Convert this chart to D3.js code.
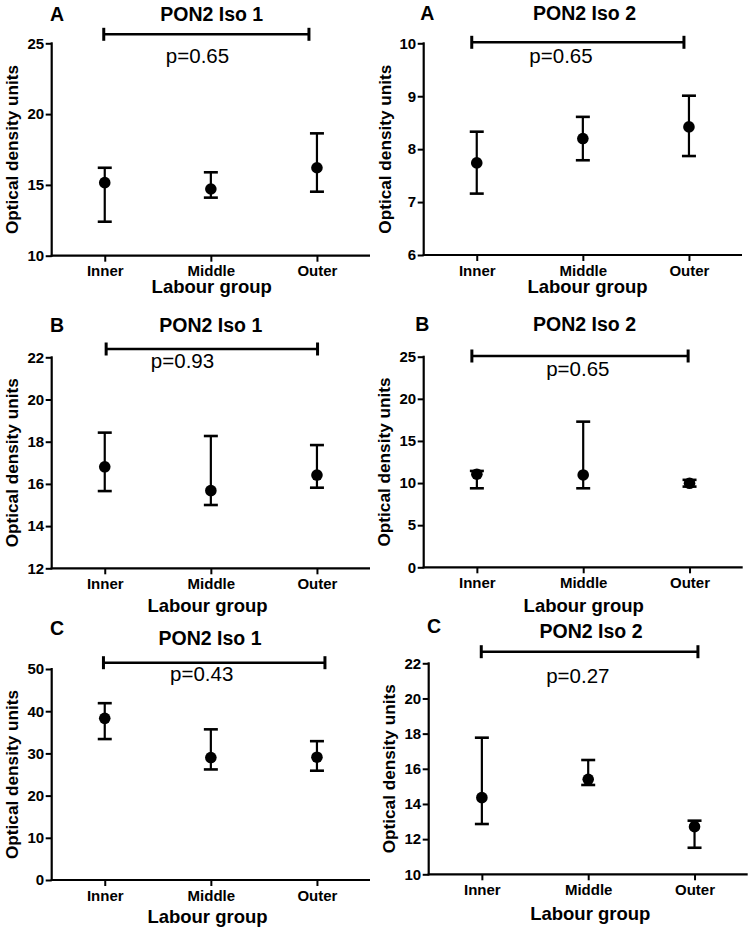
<!DOCTYPE html>
<html>
<head>
<meta charset="utf-8">
<script src="https://cdn.jsdelivr.net/npm/d3@7"></script>
<style>
  html, body { margin: 0; padding: 0; background: #fff; }
  svg { display: block; }
  text { font-family: "Liberation Sans", Arial, Helvetica, sans-serif; fill: #000; }
</style>
</head>
<body>
<svg id="chart" width="755" height="935"></svg>
<script>
// ---------------- DATA ----------------
const categories = ["Inner", "Middle", "Outer"];
const panelLetters = ["A", "A", "B", "B", "C", "C"];
const panelTitles = ["PON2 Iso 1", "PON2 Iso 2", "PON2 Iso 1", "PON2 Iso 2", "PON2 Iso 1", "PON2 Iso 2"];
const pLabels = ["p=0.65", "p=0.65", "p=0.93", "p=0.65", "p=0.43", "p=0.27"];
const xAxisTitle = "Labour group";
const yAxisTitle = "Optical density units";

const yDomains = [[10, 25], [6, 10], [12, 22], [0, 25], [0, 50], [10, 22]];
const yTickValues = [
  [10, 15, 20, 25],
  [6, 7, 8, 9, 10],
  [12, 14, 16, 18, 20, 22],
  [0, 5, 10, 15, 20, 25],
  [0, 10, 20, 30, 40, 50],
  [10, 12, 14, 16, 18, 20, 22]
];

// point estimate, upper and lower whisker per panel (Inner, Middle, Outer)
const centers = [
  [15.16, 14.71, 16.21],
  [7.74, 8.20, 8.42],
  [16.81, 15.68, 16.42],
  [11.05, 10.96, 9.97],
  [38.3, 29.0, 29.1],
  [14.36, 15.40, 12.71]
];
const uppers = [
  [16.21, 15.89, 18.64],
  [8.33, 8.61, 9.01],
  [18.43, 18.27, 17.84],
  [11.44, 17.29, 10.38],
  [41.9, 35.7, 32.9],
  [17.77, 16.50, 13.05]
];
const lowers = [
  [12.40, 14.10, 14.52],
  [7.16, 7.79, 7.87],
  [15.66, 15.00, 15.82],
  [9.38, 9.38, 9.58],
  [33.4, 26.2, 25.9],
  [12.86, 15.08, 11.51]
];

// ---------------- LAYOUT ----------------
const plotLeft   = [51.7, 423.7, 51.7, 423.7, 51.7, 428.7];
const plotRight  = [370, 742, 370, 742.7, 370, 747.7];
const plotTop    = [43.3, 43.3, 357.3, 356.7, 669, 663.3];
const plotBottom = [255.7, 255, 568.3, 567.3, 880, 874.3];
const letterPos  = [[50, 20.7], [420.3, 20], [50, 331.7], [415.3, 330.7], [50, 635], [427, 633.3]];
const titlePos   = [[211.7, 20.5], [584.5, 20], [210.8, 331.7], [584.5, 330.7], [210, 645], [591, 637.7]];
const pPos       = [[197.5, 63], [561, 63], [182.5, 368.3], [577.8, 376], [201.7, 681], [577.8, 683.3]];
const barY       = [34.3, 42.3, 349, 356, 662.7, 651.7];
const barDx      = [[-1, -8], [-5, -5], [1.4, 0.6], [-5, -1.4], [-1.3, 8], [-0.6, 3.4]];
const xTitlePos  = [[211.7, 293], [587.5, 293], [207.5, 611.7], [583.7, 611.7], [207.5, 923.3], [590.3, 920]];
const yTitleX    = [17.5, 391, 17.5, 390, 17.5, 395];

const svg = d3.select("#chart");
const fmt = d3.format("~g");

for (let i = 0; i < 6; i++) {
  const g = svg.append("g");
  const x = d3.scalePoint().domain(categories).range([plotLeft[i], plotRight[i]]).padding(0.5);
  const y = d3.scaleLinear().domain(yDomains[i]).range([plotBottom[i], plotTop[i]]);

  // y axis
  const yAxis = g.append("g")
    .attr("transform", `translate(${plotLeft[i]},0)`)
    .call(d3.axisLeft(y).tickValues(yTickValues[i]).tickFormat(fmt).tickSize(6).tickPadding(1.5).tickSizeOuter(0));
  // x axis
  const xAxis = g.append("g")
    .attr("transform", `translate(0,${plotBottom[i]})`)
    .call(d3.axisBottom(x).tickSize(6).tickPadding(4).tickSizeOuter(0));

  [yAxis, xAxis].forEach(a => {
    a.select(".domain").attr("stroke", "#000").attr("stroke-width", 2.2);
    a.selectAll(".tick line").attr("stroke", "#000").attr("stroke-width", 2);
    a.selectAll(".tick text")
      .attr("font-family", "Liberation Sans, Arial, sans-serif")
      .attr("font-weight", "bold")
      .attr("font-size", 15)
      .attr("fill", "#111");
  });
  // x domain line should start at y axis
  xAxis.select(".domain").attr("d", `M${plotLeft[i] - 1},0H${plotRight[i]}`);
  yAxis.select(".domain").attr("d", `M0,${plotTop[i] - 1}V${plotBottom[i] + 1}`);

  // error bars
  const rows = categories.map((c, k) => ({ c, m: centers[i][k], hi: uppers[i][k], lo: lowers[i][k] }));
  const eb = g.append("g").selectAll("g").data(rows).join("g");
  eb.append("line")
    .attr("x1", d => x(d.c)).attr("x2", d => x(d.c))
    .attr("y1", d => y(d.hi)).attr("y2", d => y(d.lo))
    .attr("stroke", "#000").attr("stroke-width", 2.2);
  eb.append("line")
    .attr("x1", d => x(d.c) - 7).attr("x2", d => x(d.c) + 7)
    .attr("y1", d => y(d.hi)).attr("y2", d => y(d.hi))
    .attr("stroke", "#000").attr("stroke-width", 2.6);
  eb.append("line")
    .attr("x1", d => x(d.c) - 7).attr("x2", d => x(d.c) + 7)
    .attr("y1", d => y(d.lo)).attr("y2", d => y(d.lo))
    .attr("stroke", "#000").attr("stroke-width", 2.6);
  eb.append("circle")
    .attr("cx", d => x(d.c)).attr("cy", d => y(d.m))
    .attr("r", 5.8).attr("fill", "#000");

  // significance bar
  const bx1 = x(categories[0]) + barDx[i][0];
  const bx2 = x(categories[2]) + barDx[i][1];
  const sb = g.append("g").attr("stroke", "#000");
  sb.append("line").attr("x1", bx1).attr("x2", bx2).attr("y1", barY[i]).attr("y2", barY[i]).attr("stroke-width", 2.6);
  sb.append("line").attr("x1", bx1).attr("x2", bx1).attr("y1", barY[i] - 6.5).attr("y2", barY[i] + 6.5).attr("stroke-width", 3);
  sb.append("line").attr("x1", bx2).attr("x2", bx2).attr("y1", barY[i] - 6.5).attr("y2", barY[i] + 6.5).attr("stroke-width", 3);

  g.append("text")
    .attr("x", pPos[i][0]).attr("y", pPos[i][1])
    .attr("text-anchor", "middle").attr("font-size", 20.5)
    .attr("fill", "#1a1a1a")
    .text(pLabels[i]);

  // titles
  g.append("text")
    .attr("x", titlePos[i][0]).attr("y", titlePos[i][1])
    .attr("text-anchor", "middle").attr("font-size", 19.5).attr("font-weight", "bold")
    .text(panelTitles[i]);
  g.append("text")
    .attr("x", letterPos[i][0]).attr("y", letterPos[i][1])
    .attr("font-size", 19.5).attr("font-weight", "bold")
    .text(panelLetters[i]);

  g.append("text")
    .attr("x", xTitlePos[i][0]).attr("y", xTitlePos[i][1])
    .attr("text-anchor", "middle").attr("font-size", 18.5).attr("font-weight", "bold")
    .attr("fill", "#111")
    .text(xAxisTitle);

  g.append("text")
    .attr("transform", `translate(${yTitleX[i]},${(plotTop[i] + plotBottom[i]) / 2}) rotate(-90)`)
    .attr("text-anchor", "middle").attr("font-size", 17.2).attr("font-weight", "bold")
    .attr("fill", "#111")
    .text(yAxisTitle);
}
</script>
</body>
</html>
